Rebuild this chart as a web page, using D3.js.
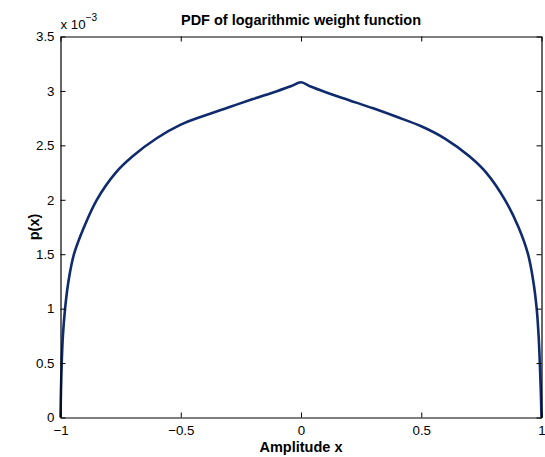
<!DOCTYPE html>
<html>
<head>
<meta charset="utf-8">
<script src="https://cdn.jsdelivr.net/npm/d3@7"></script>
<style>
  body { margin: 0; background: #fff; }
  svg { font-family: "Liberation Sans", Arial, Helvetica, sans-serif; }
</style>
</head>
<body>
<svg id="chart" width="545" height="457"></svg>
<script>
// values (p in units of 1e-3)
let xTicks = [-1, -0.5, 0, 0.5, 1];
let xTickLabels = ["\u22121", "\u22120.5", "0", "0.5", "1"];
let yTicks = [0, 0.5, 1, 1.5, 2, 2.5, 3, 3.5];
let yTickLabels = ["0", "0.5", "1", "1.5", "2", "2.5", "3", "3.5"];

let xs = [-1, -0.998, -0.995, -0.990, -0.981, -0.967, -0.944, -0.902, -0.849, -0.770,
  -0.700, -0.600, -0.500, -0.400, -0.300, -0.200, -0.100, -0.040, 0,
  0.040, 0.100, 0.200, 0.300, 0.400, 0.500, 0.600, 0.700, 0.770, 0.848,
  0.904, 0.944, 0.966, 0.980, 0.988, 0.993, 0.997, 1];
let ps = [0, 0.25, 0.50, 0.75, 1.00, 1.25, 1.50, 1.75, 2.00, 2.25,
  2.40, 2.565, 2.69, 2.775, 2.85, 2.925, 2.998, 3.045, 3.08,
  3.04, 2.99, 2.915, 2.84, 2.76, 2.675, 2.56, 2.40, 2.25, 2.00,
  1.75, 1.50, 1.25, 1.00, 0.75, 0.50, 0.25, 0];

let title = "PDF of logarithmic weight function";
let xLabel = "Amplitude x";
let yLabel = "p(x)";

let mLeft = 60.5, mRight = 541.5, mTop = 36.5, mBottom = 417.5;

let svg = d3.select("#chart");

let x = d3.scaleLinear().domain([-1, 1]).range([mLeft, mRight]);
let y = d3.scaleLinear().domain([0, 3.5]).range([mBottom, mTop]);

// curve first, axes on top
let line = d3.line()
  .x((d, i) => x(xs[i]))
  .y((d, i) => y(ps[i]))
  .curve(d3.curveCatmullRom.alpha(0.5));

svg.append("path")
  .datum(ps)
  .attr("d", line)
  .attr("fill", "none")
  .attr("stroke", "#0f2a6d")
  .attr("stroke-width", 2.6)
  .attr("stroke-linejoin", "round");

function styleAxis(g) {
  g.selectAll("path").attr("stroke", "#000").attr("stroke-width", 1.2);
  g.selectAll("line").attr("stroke", "#000").attr("stroke-width", 1);
  g.selectAll("text").attr("fill", "#000").attr("font-size", 13.3);
}

let fmtX = (d) => xTickLabels[xTicks.indexOf(d)];
let fmtY = (d) => yTickLabels[yTicks.indexOf(d)];

svg.append("g")
  .attr("transform", `translate(0,${mBottom})`)
  .call(d3.axisBottom(x).tickValues(xTicks).tickFormat(fmtX).tickSizeInner(-5).tickSizeOuter(0).tickPadding(8))
  .call(styleAxis);

svg.append("g")
  .attr("transform", `translate(0,${mTop})`)
  .call(d3.axisTop(x).tickValues(xTicks).tickFormat("").tickSizeInner(-5).tickSizeOuter(0))
  .call(styleAxis);

svg.append("g")
  .attr("transform", `translate(${mLeft},0)`)
  .call(d3.axisLeft(y).tickValues(yTicks).tickFormat(fmtY).tickSizeInner(-5).tickSizeOuter(0).tickPadding(6))
  .call(styleAxis);

svg.append("g")
  .attr("transform", `translate(${mRight},0)`)
  .call(d3.axisRight(y).tickValues(yTicks).tickFormat("").tickSizeInner(-5).tickSizeOuter(0))
  .call(styleAxis);

// exponent label
let ex = svg.append("text")
  .attr("x", mLeft)
  .attr("y", 29)
  .attr("font-size", 13.3);
ex.append("tspan").text("x 10");
ex.append("tspan").attr("dy", -8).attr("font-size", 10).text("\u22123");

svg.append("text")
  .attr("x", (mLeft + mRight) / 2)
  .attr("y", 25)
  .attr("text-anchor", "middle")
  .attr("font-weight", "bold")
  .attr("font-size", 14.5)
  .text(title);

svg.append("text")
  .attr("x", (mLeft + mRight) / 2)
  .attr("y", 452)
  .attr("text-anchor", "middle")
  .attr("font-weight", "bold")
  .attr("font-size", 14.5)
  .text(xLabel);

svg.append("text")
  .attr("transform", `translate(39,${(mTop + mBottom) / 2}) rotate(-90)`)
  .attr("text-anchor", "middle")
  .attr("font-weight", "bold")
  .attr("font-size", 14.5)
  .text(yLabel);
</script>
</body>
</html>
